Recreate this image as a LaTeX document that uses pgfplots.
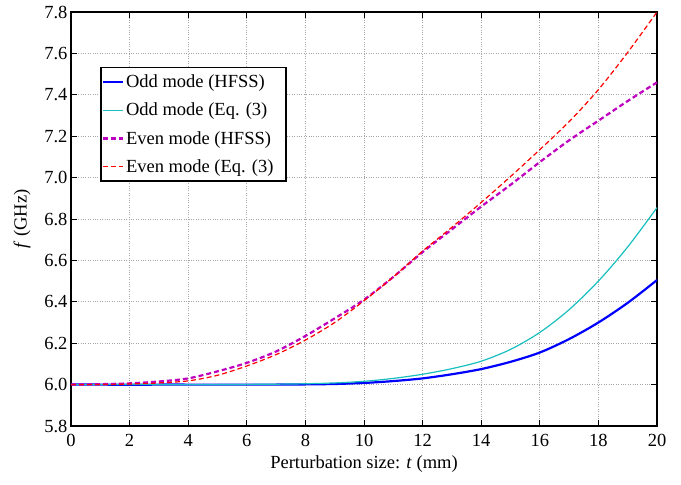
\documentclass[border=0pt]{standalone}
\usepackage{pgfplots}
\pgfplotsset{compat=1.18}
\usepackage{fontspec}
\setmainfont{Liberation Serif}
\definecolor{cmag}{rgb}{0.75,0,0.75}
\definecolor{ccyan}{rgb}{0.1,0.75,0.75}
\begin{document}
\begin{tikzpicture}
\begin{axis}[
  name=ax,
  scale only axis,
  width=586pt, height=414pt,
  xmin=0, xmax=20, ymin=5.8, ymax=7.8,
  xtick={0,2,...,20},
  ytick={5.8,6.0,...,7.8},
  yticklabel style={/pgf/number format/.cd,fixed,fixed zerofill,precision=1},
  /pgf/number format/assume math mode=true,
  tick label style={font=\fontsize{18.5}{20}\selectfont},
  label style={font=\fontsize{18.5}{20}\selectfont},
  xlabel={Perturbation size: \textit{t} (mm)},
  ylabel={\textit{f} (GHz)},
  xticklabel style={yshift=-5pt},
  xlabel style={yshift=-2pt},
  ylabel style={yshift=7pt},
  grid=major,
  major grid style={dotted, gray!70, line width=0.7pt},
  axis line style={line width=1.6pt},
  tick style={black, line width=0.8pt},
  tick align=inside,
  major tick length=6pt,
  legend style={at={(0.05,0.867)}, anchor=north west, draw=black, line width=1.2pt,
    font=\fontsize{18.5}{22}\selectfont, inner xsep=1pt, inner ysep=5pt,
    row sep=10pt, cells={anchor=west}},
  legend image code/.code={\draw[#1] (0pt,0pt) -- (20pt,0pt);},
]
\addplot[blue, line width=2.2pt, smooth] coordinates {
(0,6.0) (1,6.0) (2,5.999) (3,6.0) (4,6.0) (5,6.0) (6,6.0) (7,6.0) (8,6.001) (9,6.003) (10,6.008)
(11,6.017) (12,6.03) (13,6.05) (14,6.075) (15,6.11) (16,6.155) (17,6.22) (18,6.30) (19,6.395) (20,6.505)};
\addlegendentry{Odd mode (HFSS)}
\addplot[ccyan, line width=1.2pt, smooth] coordinates {
(0,6.0) (1,6.0) (2,6.0) (3,6.0) (4,6.0) (5,6.0) (6,6.001) (7,6.002) (8,6.004) (9,6.008) (10,6.016)
(11,6.03) (12,6.05) (13,6.077) (14,6.113) (15,6.17) (16,6.252) (17,6.362) (18,6.5) (19,6.665) (20,6.855)};
\addlegendentry{Odd mode (Eq. (3)}
\addplot[cmag, line width=2.2pt, dash pattern=on 5pt off 3pt, smooth] coordinates {
(0,6.0) (1,6.002) (2,6.006) (3,6.015) (4,6.03) (5,6.064) (6,6.105) (7,6.16) (8,6.235) (9,6.32) (10,6.41)
(11,6.52) (12,6.64) (13,6.75) (14,6.86) (15,6.965) (16,7.075) (17,7.18) (18,7.275) (19,7.37) (20,7.46)};
\addlegendentry{Even mode (HFSS)\rule{12pt}{0pt}}
\addplot[red, line width=1.2pt, dash pattern=on 5pt off 3pt, smooth] coordinates {
(0,6.0) (1,6.0) (2,6.003) (3,6.008) (4,6.018) (5,6.045) (6,6.09) (7,6.145) (8,6.215) (9,6.3) (10,6.405)
(11,6.52) (12,6.645) (13,6.76) (14,6.88) (15,7.005) (16,7.135) (17,7.27) (18,7.425) (19,7.605) (20,7.8)};
\addlegendentry{Even mode (Eq. (3)}
\end{axis}
\path ([xshift=-71pt,yshift=-58pt]ax.south west) rectangle ([xshift=24pt,yshift=12pt]ax.north east);
\end{tikzpicture}
\end{document}
